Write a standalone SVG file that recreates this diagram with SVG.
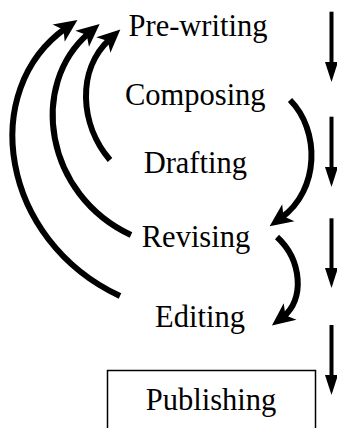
<svg xmlns="http://www.w3.org/2000/svg" width="337" height="428" viewBox="0 0 337 428">
<defs>
<style>
text{font-family:"Liberation Serif","Times New Roman",serif;font-size:30.5px;fill:#000;text-anchor:middle}
.arc{fill:none;stroke:#000;stroke-width:6;marker-end:url(#barb)}
.vline{stroke:#000;stroke-width:4}
.vhead{fill:#000}
</style>
<marker id="barb" markerUnits="userSpaceOnUse" viewBox="-8 -11 26 22" refX="3" refY="0" markerWidth="26" markerHeight="22" orient="auto" overflow="visible">
<path d="M17,0 L-6,-10.5 L0,0 L-6,10.5 Z" fill="#000"/>
</marker>
</defs>
<rect width="337" height="428" fill="#fff"/>
<g id="prewriting"><text x="198" y="36">Pre-writing</text></g>
<g id="composing"><text x="195.3" y="105">Composing</text></g>
<g id="drafting"><text x="195.3" y="173.3">Drafting</text></g>
<g id="revising"><text x="196" y="246.7">Revising</text></g>
<g id="editing"><text x="200" y="326.7">Editing</text></g>
<g id="publishing"><rect x="107.5" y="370.5" width="208" height="70" fill="#fff" stroke="#000" stroke-width="1.5"/><text x="211" y="410">Publishing</text></g>
<g id="connectors">
<path class="arc" d="M110,160 C80,125 76,70 110,39"/>
<path class="arc" d="M131,235 C45,195 28,85 89,33"/>
<path class="arc" d="M120,296 C0,240 -22,90 66,28"/>
<path class="arc" d="M290,100 C320,130 320,190 281,218"/>
<path class="arc" d="M277,237 C302,260 305,300 283,317"/>
<line class="vline" x1="331.5" y1="11.7" x2="331.5" y2="66"/>
<polygon class="vhead" points="325,62 338,62 331.5,82"/>
<line class="vline" x1="331.5" y1="116.7" x2="331.5" y2="170"/>
<polygon class="vhead" points="325,167 338,167 331.5,187"/>
<line class="vline" x1="331.5" y1="218.3" x2="331.5" y2="272"/>
<polygon class="vhead" points="325,268 338,268 331.5,288"/>
<line class="vline" x1="331.5" y1="325" x2="331.5" y2="378"/>
<polygon class="vhead" points="325,375 338,375 331.5,395"/>
</g>
</svg>
